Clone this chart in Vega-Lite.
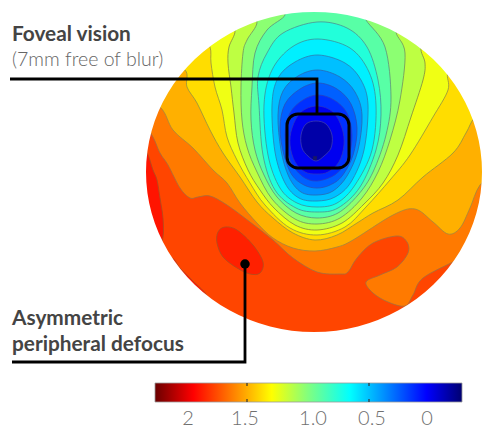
{"$schema":"https://vega.github.io/schema/vega-lite/v6.json","width":483,"height":428,"padding":0,"autosize":"none","background":"white","view":{"stroke":null},
"datasets":{
"ring":[{"x":517,"y":172},{"x":510.1,"y":222.5},{"x":489.8,"y":269.5},{"x":457.5,"y":309.9},{"x":415.5,"y":340.9},{"x":366.6,"y":360.4},{"x":314,"y":367},{"x":261.4,"y":360.4},{"x":212.5,"y":340.9},{"x":170.5,"y":309.9},{"x":138.2,"y":269.5},{"x":117.9,"y":222.5},{"x":111,"y":172},{"x":117.9,"y":121.5},{"x":138.2,"y":74.5},{"x":170.5,"y":34.1},{"x":212.5,"y":3.1},{"x":261.4,"y":-16.4},{"x":314,"y":-23},{"x":366.6,"y":-16.4},{"x":415.5,"y":3.1},{"x":457.5,"y":34.1},{"x":489.8,"y":74.5},{"x":510.1,"y":121.5}],
"leaders":[{"id":"a","x":10,"y":79},{"id":"a","x":317,"y":79},{"id":"a","x":317,"y":114},{"id":"b","x":12,"y":362},{"id":"b","x":245,"y":362},{"id":"b","x":245,"y":264}],
"labels":[{"t":"Foveal vision","x":12,"y":41,"k":"head"},{"t":"Asymmetric","x":12,"y":325,"k":"head"},{"t":"peripheral defocus","x":12,"y":351,"k":"head"},{"t":"(7mm free of blur)","x":12,"y":66,"k":"sub"}],
"scale":[{"t":"2","x":188,"y":425},{"t":"1.5","x":245,"y":425},{"t":"1.0","x":313,"y":425},{"t":"0.5","x":372,"y":425},{"t":"0","x":427,"y":425}],
"ticks":[{"x":247,"y":383,"y2":386},{"x":247,"y":399,"y2":402},{"x":369,"y":383,"y2":386},{"x":369,"y":399,"y2":402}]
},
"data":{"values":[]},
"encoding":{"x":{"field":"x","type":"quantitative","axis":null,"scale":{"domain":[0,483],"nice":false,"zero":false}},"y":{"field":"y","type":"quantitative","axis":null,"scale":{"domain":[428,0],"nice":false,"zero":false}}},
"layer":[
{"data":{"name":"ring"},"transform":[{"window":[{"op":"row_number","as":"i"}]}],"mark":{"type":"line","interpolate":"cardinal-closed","filled":true,"fill":"#FF4500","opacity":1,"fillOpacity":1},"encoding":{"order":{"field":"i","type":"quantitative"}}},
{"data":{"values":[
{"b":"edge1","x":140,"y":150},{"b":"edge1","x":147,"y":153},{"b":"edge1","x":153,"y":170},{"b":"edge1","x":157,"y":180},{"b":"edge1","x":160,"y":198},{"b":"edge1","x":163,"y":218},{"b":"edge1","x":163,"y":237},{"b":"edge1","x":158,"y":245},{"b":"edge1","x":135,"y":240},{"b":"edge1","x":125,"y":190},
{"b":"edge2","x":171,"y":258},{"b":"edge2","x":180,"y":268},{"b":"edge2","x":192,"y":280},{"b":"edge2","x":207,"y":297},{"b":"edge2","x":190,"y":305},{"b":"edge2","x":155,"y":270},
{"b":"patch","x":225,"y":227},{"b":"patch","x":237,"y":230},{"b":"patch","x":253,"y":245},{"b":"patch","x":263,"y":262},{"b":"patch","x":260,"y":273},{"b":"patch","x":250,"y":274},{"b":"patch","x":237,"y":268},{"b":"patch","x":223,"y":257},{"b":"patch","x":217,"y":243},{"b":"patch","x":218,"y":232},
{"b":"A","x":150,"y":132},{"b":"A","x":160,"y":153},{"b":"A","x":168,"y":165},{"b":"A","x":180,"y":188},{"b":"A","x":190,"y":198},{"b":"A","x":198,"y":197},{"b":"A","x":210,"y":196},{"b":"A","x":227,"y":205},{"b":"A","x":250,"y":222},{"b":"A","x":273,"y":240},{"b":"A","x":293,"y":258},{"b":"A","x":317,"y":272},{"b":"A","x":340,"y":274},{"b":"A","x":348,"y":272},{"b":"A","x":357,"y":258},{"b":"A","x":373,"y":243},{"b":"A","x":397,"y":236},{"b":"A","x":407,"y":242},{"b":"A","x":408,"y":253},{"b":"A","x":397,"y":267},{"b":"A","x":380,"y":275},{"b":"A","x":366,"y":282},{"b":"A","x":373,"y":293},{"b":"A","x":388,"y":302},{"b":"A","x":405,"y":306},{"b":"A","x":413,"y":295},{"b":"A","x":423,"y":278},{"b":"A","x":457,"y":260},{"b":"A","x":475,"y":250},{"b":"A","x":505,"y":235},{"b":"A","x":505,"y":120},{"b":"A","x":460,"y":20},{"b":"A","x":400,"y":-12},{"b":"A","x":314,"y":-20},{"b":"A","x":225,"y":-12},{"b":"A","x":165,"y":30},{"b":"A","x":125,"y":100},
{"b":"B","x":160,"y":107},{"b":"B","x":173,"y":130},{"b":"B","x":193,"y":148},{"b":"B","x":213,"y":170},{"b":"B","x":227,"y":183},{"b":"B","x":240,"y":203},{"b":"B","x":257,"y":223},{"b":"B","x":273,"y":238},{"b":"B","x":293,"y":248},{"b":"B","x":315,"y":251},{"b":"B","x":337,"y":247},{"b":"B","x":353,"y":240},{"b":"B","x":393,"y":215},{"b":"B","x":415,"y":209},{"b":"B","x":433,"y":222},{"b":"B","x":448,"y":234},{"b":"B","x":460,"y":228},{"b":"B","x":470,"y":208},{"b":"B","x":480,"y":185},{"b":"B","x":500,"y":165},{"b":"B","x":490,"y":95},{"b":"B","x":450,"y":25},{"b":"B","x":400,"y":-8},{"b":"B","x":314,"y":-18},{"b":"B","x":225,"y":-8},{"b":"B","x":165,"y":35},{"b":"B","x":130,"y":90},
{"b":"C","x":185,"y":70},{"b":"C","x":187,"y":87},{"b":"C","x":197,"y":103},{"b":"C","x":210,"y":130},{"b":"C","x":223,"y":153},{"b":"C","x":240,"y":177},{"b":"C","x":257,"y":202},{"b":"C","x":273,"y":218},{"b":"C","x":293,"y":233},{"b":"C","x":315,"y":240},{"b":"C","x":337,"y":235},{"b":"C","x":357,"y":223},{"b":"C","x":373,"y":213},{"b":"C","x":398,"y":200},{"b":"C","x":423,"y":177},{"b":"C","x":453,"y":153},{"b":"C","x":466,"y":133},{"b":"C","x":475,"y":117},{"b":"C","x":495,"y":100},{"b":"C","x":455,"y":25},{"b":"C","x":400,"y":-5},{"b":"C","x":314,"y":-15},{"b":"C","x":225,"y":-5},{"b":"C","x":170,"y":40},{"b":"C","x":160,"y":60},
{"b":"D","x":210,"y":47},{"b":"D","x":211,"y":63},{"b":"D","x":215,"y":87},{"b":"D","x":222,"y":110},{"b":"D","x":227,"y":137},{"b":"D","x":237,"y":160},{"b":"D","x":250,"y":183},{"b":"D","x":265,"y":205},{"b":"D","x":290,"y":228},{"b":"D","x":317,"y":235},{"b":"D","x":345,"y":227},{"b":"D","x":366,"y":207},{"b":"D","x":390,"y":180},{"b":"D","x":410,"y":155},{"b":"D","x":433,"y":117},{"b":"D","x":448,"y":90},{"b":"D","x":448,"y":72},{"b":"D","x":462,"y":55},{"b":"D","x":420,"y":5},{"b":"D","x":314,"y":-12},{"b":"D","x":225,"y":10},{"b":"D","x":200,"y":30},
{"b":"E","x":235,"y":30},{"b":"E","x":229,"y":47},{"b":"E","x":228,"y":63},{"b":"E","x":231,"y":87},{"b":"E","x":234,"y":113},{"b":"E","x":238,"y":143},{"b":"E","x":248,"y":170},{"b":"E","x":260,"y":190},{"b":"E","x":274,"y":208},{"b":"E","x":295,"y":225},{"b":"E","x":317,"y":230},{"b":"E","x":342,"y":223},{"b":"E","x":364,"y":204},{"b":"E","x":383,"y":183},{"b":"E","x":398,"y":155},{"b":"E","x":411,"y":117},{"b":"E","x":423,"y":80},{"b":"E","x":425,"y":63},{"b":"E","x":421,"y":47},{"b":"E","x":430,"y":25},{"b":"E","x":380,"y":-8},{"b":"E","x":260,"y":-8},{"b":"E","x":225,"y":15},
{"b":"F","x":257,"y":22},{"b":"F","x":247,"y":40},{"b":"F","x":243,"y":53},{"b":"F","x":241,"y":87},{"b":"F","x":242,"y":120},{"b":"F","x":247,"y":147},{"b":"F","x":257,"y":172},{"b":"F","x":272,"y":199},{"b":"F","x":295,"y":219},{"b":"F","x":317,"y":224},{"b":"F","x":340,"y":218},{"b":"F","x":362,"y":198},{"b":"F","x":378,"y":172},{"b":"F","x":390,"y":140},{"b":"F","x":400,"y":100},{"b":"F","x":405,"y":53},{"b":"F","x":396,"y":32},{"b":"F","x":400,"y":15},{"b":"F","x":360,"y":-5},{"b":"F","x":280,"y":-5},{"b":"F","x":245,"y":10},
{"b":"G","x":285,"y":15},{"b":"G","x":267,"y":30},{"b":"G","x":255,"y":53},{"b":"G","x":252,"y":87},{"b":"G","x":251,"y":120},{"b":"G","x":255,"y":150},{"b":"G","x":264,"y":175},{"b":"G","x":277,"y":197},{"b":"G","x":296,"y":213},{"b":"G","x":317,"y":218},{"b":"G","x":338,"y":213},{"b":"G","x":358,"y":195},{"b":"G","x":373,"y":172},{"b":"G","x":386,"y":135},{"b":"G","x":391,"y":97},{"b":"G","x":385,"y":47},{"b":"G","x":366,"y":20},{"b":"G","x":362,"y":8},{"b":"G","x":340,"y":-5},{"b":"G","x":300,"y":-5},{"b":"G","x":275,"y":5},
{"b":"H","x":317,"y":22},{"b":"H","x":347,"y":28},{"b":"H","x":367,"y":47},{"b":"H","x":378,"y":80},{"b":"H","x":381,"y":115},{"b":"H","x":376,"y":150},{"b":"H","x":360,"y":187},{"b":"H","x":338,"y":208},{"b":"H","x":317,"y":212},{"b":"H","x":296,"y":208},{"b":"H","x":275,"y":190},{"b":"H","x":263,"y":155},{"b":"H","x":259,"y":105},{"b":"H","x":258,"y":77},{"b":"H","x":267,"y":53},{"b":"H","x":283,"y":33},
{"b":"I","x":318,"y":39},{"b":"I","x":350,"y":48},{"b":"I","x":369,"y":72},{"b":"I","x":376,"y":105},{"b":"I","x":372,"y":150},{"b":"I","x":355,"y":185},{"b":"I","x":337,"y":203},{"b":"I","x":317,"y":207},{"b":"I","x":297,"y":203},{"b":"I","x":280,"y":188},{"b":"I","x":268,"y":155},{"b":"I","x":264,"y":105},{"b":"I","x":272,"y":70},{"b":"I","x":292,"y":47},
{"b":"J","x":318,"y":55},{"b":"J","x":345,"y":63},{"b":"J","x":361,"y":80},{"b":"J","x":368,"y":105},{"b":"J","x":364,"y":150},{"b":"J","x":351,"y":182},{"b":"J","x":335,"y":197},{"b":"J","x":317,"y":201},{"b":"J","x":299,"y":198},{"b":"J","x":285,"y":183},{"b":"J","x":275,"y":152},{"b":"J","x":272,"y":105},{"b":"J","x":278,"y":78},{"b":"J","x":295,"y":62},
{"b":"K","x":318,"y":70},{"b":"K","x":340,"y":77},{"b":"K","x":355,"y":92},{"b":"K","x":362,"y":115},{"b":"K","x":358,"y":150},{"b":"K","x":347,"y":176},{"b":"K","x":333,"y":191},{"b":"K","x":317,"y":195},{"b":"K","x":301,"y":192},{"b":"K","x":289,"y":177},{"b":"K","x":281,"y":150},{"b":"K","x":278,"y":115},{"b":"K","x":283,"y":91},{"b":"K","x":298,"y":76},
{"b":"L","x":318,"y":83},{"b":"L","x":337,"y":89},{"b":"L","x":351,"y":104},{"b":"L","x":357,"y":128},{"b":"L","x":353,"y":155},{"b":"L","x":342,"y":176},{"b":"L","x":330,"y":185},{"b":"L","x":317,"y":188},{"b":"L","x":304,"y":185},{"b":"L","x":292,"y":175},{"b":"L","x":284,"y":155},{"b":"L","x":280,"y":128},{"b":"L","x":285,"y":104},{"b":"L","x":300,"y":89},
{"b":"M","x":318,"y":95},{"b":"M","x":334,"y":100},{"b":"M","x":347,"y":113},{"b":"M","x":352,"y":135},{"b":"M","x":348,"y":158},{"b":"M","x":336,"y":174},{"b":"M","x":317,"y":181},{"b":"M","x":302,"y":176},{"b":"M","x":290,"y":160},{"b":"M","x":285,"y":135},{"b":"M","x":290,"y":113},{"b":"M","x":303,"y":100},
{"b":"N","x":317,"y":106},{"b":"N","x":333,"y":112},{"b":"N","x":342,"y":128},{"b":"N","x":344,"y":145},{"b":"N","x":339,"y":162},{"b":"N","x":328,"y":172},{"b":"N","x":317,"y":174},{"b":"N","x":305,"y":172},{"b":"N","x":295,"y":162},{"b":"N","x":290,"y":145},{"b":"N","x":292,"y":128},{"b":"N","x":301,"y":112}
]},"transform":[{"window":[{"op":"row_number","as":"i"}]}],"mark":{"type":"line","interpolate":"cardinal-closed","filled":true,"opacity":1,"fillOpacity":1,"strokeOpacity":1,"strokeWidth":0.8},
"encoding":{"order":{"field":"i","type":"quantitative"},"fill":{"field":"b","type":"nominal","legend":null,"scale":{"domain":["edge1","edge2","patch","A","B","C","D","E","F","G","H","I","J","K","L","M","N"],"range":["#FF1400","#FF1400","#FF2000","#FF7A00","#FFB000","#FFDD00","#F0FF14","#BEFF42","#8CFF72","#58FFA6","#22FFDA","#00F0FF","#00C0FF","#0090FF","#0060FF","#0030FF","#0000F0"]}},
"stroke":{"field":"b","type":"nominal","legend":null,"scale":{"domain":["edge1","edge2","patch","A","B","C","D","E","F","G","H","I","J","K","L","M","N"],"range":["#a85020","#a85020","#a85020","#a07040","#a08840","#909040","#909040","#808840","#709060","#609078","#4c9090","#3c9098","#2c7cb0","#2868b0","#2850b8","#2840c0","#2c34c0"]}}}},
{"data":{"values":[{"x":316,"y":121},{"x":326,"y":124},{"x":332,"y":135},{"x":331,"y":148},{"x":324,"y":156},{"x":316,"y":161},{"x":308,"y":156},{"x":302,"y":148},{"x":301,"y":135},{"x":306,"y":124}]},"transform":[{"window":[{"op":"row_number","as":"i"}]}],"mark":{"type":"line","interpolate":"cardinal-closed","filled":true,"fill":"#0000A8","stroke":"#3c3cb0","strokeWidth":0.8,"opacity":1,"fillOpacity":1},"encoding":{"order":{"field":"i","type":"quantitative"}}},
{"data":{"values":[{"x":315,"y":158}]},"mark":{"type":"point","shape":"cross","filled":true,"size":22,"color":"#1a1a60","opacity":1,"angle":45}},
{"data":{"name":"ring"},"transform":[{"window":[{"op":"row_number","as":"i"}]}],"mark":{"type":"line","interpolate":"cardinal-closed","stroke":"white","strokeWidth":70},"encoding":{"order":{"field":"i","type":"quantitative"}}},
{"data":{"values":[{"x":155,"x2":462,"y":383,"y2":402}]},"mark":{"type":"rect","stroke":"#999","strokeWidth":0.8,"fill":{"gradient":"linear","x1":0,"x2":1,"y1":0,"y2":0,"stops":[{"offset":0,"color":"#6a0000"},{"offset":0.125,"color":"#ff0000"},{"offset":0.27,"color":"#ff9000"},{"offset":0.38,"color":"#ffff00"},{"offset":0.5,"color":"#80ff80"},{"offset":0.635,"color":"#00ffff"},{"offset":0.745,"color":"#0090ff"},{"offset":0.885,"color":"#0000ff"},{"offset":1,"color":"#000070"}]}},"encoding":{"x2":{"field":"x2"},"y2":{"field":"y2"}}},
{"data":{"name":"ticks"},"mark":{"type":"rule","stroke":"#333","strokeWidth":1.2},"encoding":{"y2":{"field":"y2"}}},
{"data":{"name":"scale"},"mark":{"type":"text","font":"Lato","fontSize":20,"fontWeight":300,"fill":"#707070","align":"center","baseline":"alphabetic"},"encoding":{"text":{"field":"t"}}},
{"data":{"name":"leaders"},"transform":[{"window":[{"op":"row_number","as":"i"}]}],"mark":{"type":"line","stroke":"black","strokeWidth":2.8,"strokeJoin":"miter"},"encoding":{"order":{"field":"i","type":"quantitative"},"detail":{"field":"id"}}},
{"data":{"values":[{"x":287,"x2":349,"y":114,"y2":168}]},"mark":{"type":"rect","fill":null,"stroke":"black","strokeWidth":3,"cornerRadius":11},"encoding":{"x2":{"field":"x2"},"y2":{"field":"y2"}}},
{"data":{"values":[{"x":245,"y":264}]},"mark":{"type":"point","shape":"circle","filled":true,"size":90,"color":"black","opacity":1}},
{"data":{"name":"labels"},"transform":[{"filter":"datum.k=='head'"}],"mark":{"type":"text","font":"Lato","fontSize":20.8,"fontWeight":"bold","fill":"#444444","align":"left","baseline":"alphabetic"},"encoding":{"text":{"field":"t"}}},
{"data":{"name":"labels"},"transform":[{"filter":"datum.k=='sub'"}],"mark":{"type":"text","font":"Lato","fontSize":19.5,"fontWeight":300,"fill":"#666666","align":"left","baseline":"alphabetic"},"encoding":{"text":{"field":"t"}}}
]}
